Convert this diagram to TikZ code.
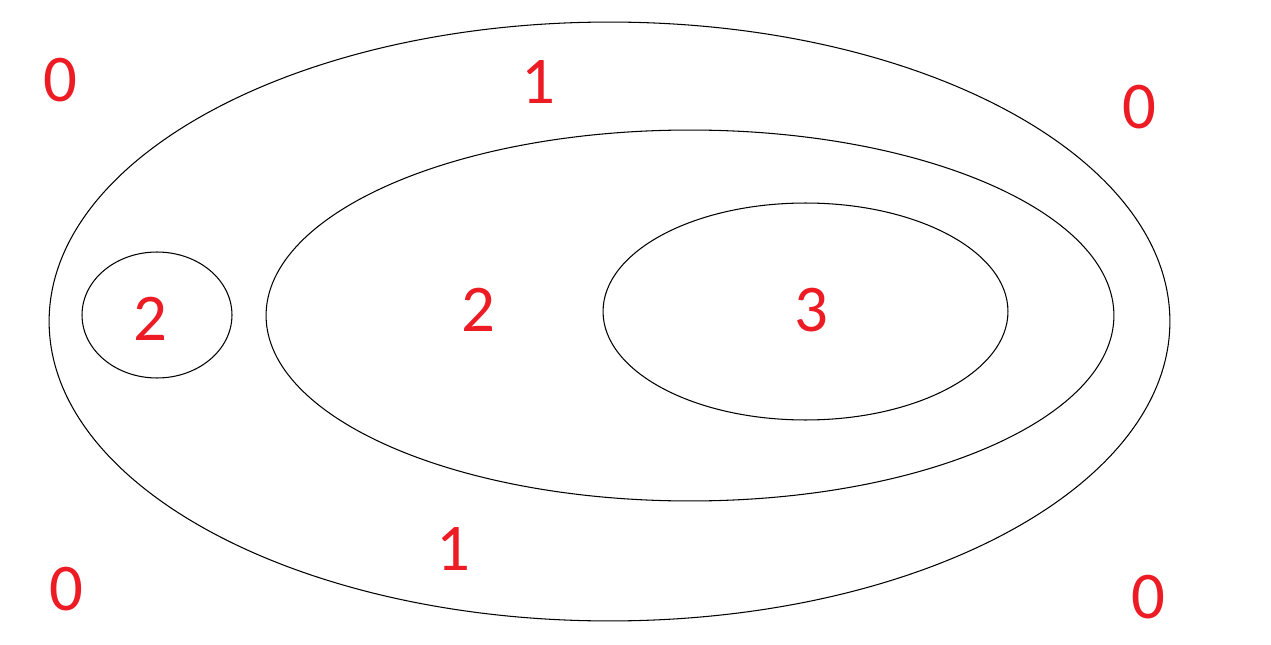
\documentclass[tikz,border=0pt]{standalone}
\usepackage{fontspec}
\setmainfont{Carlito}
\usepackage{tikz}
\usetikzlibrary{positioning}
\definecolor{numRed}{HTML}{ED1C24}
\tikzstyle{region}=[draw=black, line width=0.6pt]
\tikzstyle{depth}=[text=numRed, inner sep=0pt, font=\fontsize{38}{40}\selectfont]

\begin{document}
\begin{tikzpicture}[x=0.02cm, y=-0.02cm]
  % 画像と同じ大きさの枠
  \useasboundingbox (0,0) rectangle (1271,645);

  % 領域の境界
  \draw[region] (609.5,321.5) ellipse [x radius=11.21cm, y radius=5.99cm];
  \draw[region] (690,315.5) ellipse [x radius=8.48cm, y radius=3.71cm];
  \draw[region] (805.5,311.5) ellipse [x radius=4.05cm, y radius=2.17cm];
  \draw[region] (157,315) ellipse [x radius=1.5cm, y radius=1.26cm];

  % 外側の数字
  \node[depth] (outTL) at (60,80) {0};
  \node[depth] (outTR) at (1139,107) {0};
  \node[depth] (outBL) at (66,589) {0};
  \node[depth] (outBR) at (1148,597) {0};

  % 大きい楕円の中
  \node[depth] (oneTop) at (538,82) {1};
  \node[depth] (oneBot) at (453,549) {1};

  % 内側の数字
  \node[depth] (twoSmall) at (150,319) {2};
  \node[depth] (twoMid) at (478,310) {2};
  \node[depth] (three) at (811,310) {3};
\end{tikzpicture}
\end{document}
